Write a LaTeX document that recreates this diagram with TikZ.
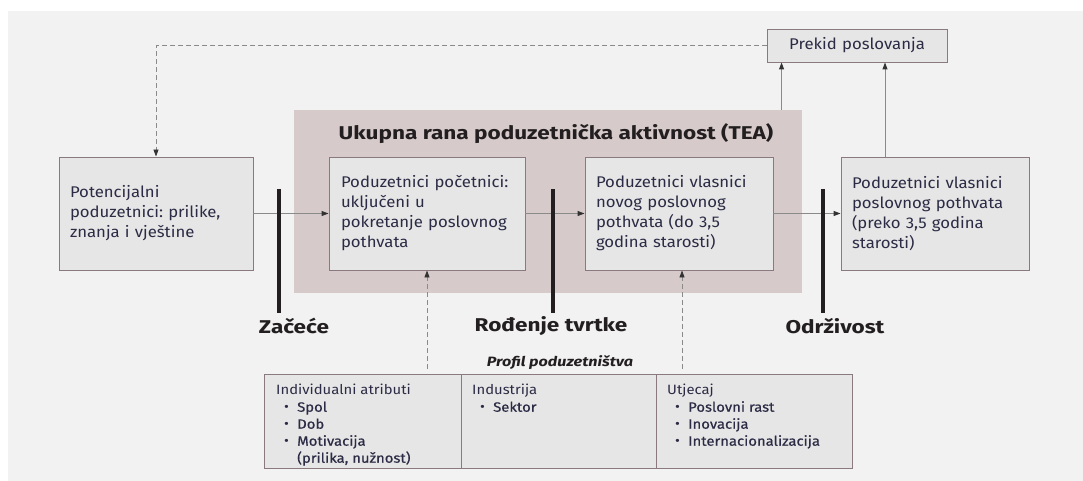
\documentclass[tikz,border=0pt]{standalone}
\usepackage{fontspec}
\setmainfont{Fira Sans}
\newfontfamily\bodyfont[FakeStretch=1.08]{Fira Sans}
\newfontfamily\titlefont[FakeStretch=1.22]{Fira Sans}
\newfontfamily\tablefont[FakeStretch=1.1]{Fira Sans}
\newfontfamily\itemfont[FakeStretch=1.1,FakeBold=0.5]{Fira Sans}
\newfontfamily\profilfont[FakeStretch=1.2]{Fira Sans}
\usetikzlibrary{arrows.meta}
\frenchspacing
\definecolor{bg}{HTML}{F2F2F2}
\definecolor{boxfill}{HTML}{E6E6E6}
\definecolor{boxline}{HTML}{8A7A7F}
\definecolor{teafill}{HTML}{D6CBCA}
\definecolor{txt}{HTML}{2B2B45}
\definecolor{dark}{HTML}{231F20}
\definecolor{linegray}{HTML}{8A8A8A}
\definecolor{headcol}{HTML}{333333}
\tikzset{
  box/.style={draw=boxline, fill=boxfill, line width=0.9pt, align=left,
    inner xsep=11pt, inner ysep=0pt, minimum height=113pt, text=txt,
    font=\bodyfont\frenchspacing\fontsize{15.5}{20}\selectfont},
  teabox/.style={fill=teafill, inner sep=0pt},
  titletext/.style={text=dark, font=\titlefont\bfseries\fontsize{18.5}{20}\selectfont, inner sep=0pt},
  lbl/.style={text=dark, font=\titlefont\bfseries\fontsize{18.5}{20}\selectfont, inner sep=0pt},
  bar/.style={draw=dark, line width=4pt},
  arr/.style={draw=linegray, line width=0.9pt, -{Triangle[length=7pt,width=5pt,color=headcol]}},
  dasharr/.style={draw=linegray, line width=0.9pt, dash pattern=on 5pt off 3pt,
    -{Triangle[length=7pt,width=5pt,color=headcol]}},
  cell/.style={draw=boxline, fill=boxfill, line width=0.9pt, inner sep=0pt, minimum height=94pt},
  celltext/.style={text=txt, align=left, inner sep=0pt, font=\tablefont\frenchspacing\fontsize{13.5}{17}\selectfont},
  profil/.style={text=dark, inner sep=0pt, font=\profilfont\bfseries\itshape\fontsize{13.5}{14}\selectfont},
}
\newcommand{\itm}[1]{\makebox[21pt][l]{\hspace*{8pt}\textbullet}{\itemfont #1}}
\begin{document}
\begin{tikzpicture}[x=1pt,y=-1pt]
\useasboundingbox (0,0) rectangle (1083,481);
\fill[bg] (8,11) rectangle (1083,481);

% TEA region
\node[teabox, minimum width=508pt, minimum height=183pt] (tea) at (548,201.5) {};
\node[titletext] (teatitle) at (556,134) {Ukupna rana poduzetnička aktivnost (TEA)};

% main boxes
\node[box, text width=172pt] (pot) at (156,213.5) {Potencijalni\\poduzetnici: prilike,\\znanja i vještine};
\node[box, inner xsep=12pt, text width=172pt] (p1) at (427,213.5) {Poduzetnici početnici:\\uključeni u\\pokretanje poslovnog\\pothvata};
\node[box, text width=166pt] (p2) at (679,213.5) {Poduzetnici vlasnici\\novog poslovnog\\pothvata (do 3,5\\godina starosti)};
\node[box, text width=166pt] (p4) at (935,213.5) {Poduzetnici vlasnici\\poslovnog pothvata\\(preko 3,5 godina\\starosti)};

% Prekid
\node[box, align=center, text width=158pt, minimum height=33pt] (prekid) at (857,45.5) {Prekid poslovanja};

% horizontal arrows
\draw[arr] (pot) -- (p1);
\draw[arr] (p1) -- (p2);
\draw[arr] (p2) -- (p4);

% bars
\draw[bar] (279,189) -- (279,313);
\draw[bar] (553,189) -- (553,313);
\draw[bar] (823,189) -- (823,313);

% stage labels
\node[lbl] (zacece) at (294,326) {Začeće};
\node[lbl] (rodenje) at (551,326) {Rođenje tvrtke};
\node[lbl] (odrzivost) at (835,326) {Održivost};

% arrows up to Prekid
\coordinate (pk1) at ([xshift=15pt]prekid.south west);
\coordinate (pk2) at ([xshift=28pt]prekid.south);
\draw[arr] (pk1 |- tea.north) -- (pk1);
\draw[arr] (pk2 |- p4.north) -- (pk2);

% dashed feedback
\draw[dasharr] (prekid.west) -- (pot.north |- prekid.west) -- (pot.north);

% profile table
\node[profil] (profil) at (560,363) {Profil poduzetništva};
\node[cell, minimum width=197pt, anchor=north west] (c1) at (264,374) {};
\node[cell, minimum width=195pt, anchor=north west] (c2) at (461,374) {};
\node[cell, minimum width=196pt, anchor=north west] (c3) at (656,374) {};
\node[celltext, anchor=north west] (t1) at ([xshift=12pt,yshift=-10pt]c1.north west)
  {Individualni atributi\\\itm{Spol}\\\itm{Dob}\\\itm{Motivacija}\\\hspace*{21pt}{\itemfont (prilika, nužnost)}};
\node[celltext, anchor=north west] (t2) at ([xshift=11pt,yshift=-10pt]c2.north west)
  {Industrija\\\itm{Sektor}};
\node[celltext, anchor=north west] (t3) at ([xshift=11pt,yshift=-10pt]c3.north west)
  {Utjecaj\\\itm{Poslovni rast}\\\itm{Inovacija}\\\itm{Internacionalizacija}};

% dashed arrows from profile
\coordinate (dl) at (0,369);
\coordinate (p2s) at ([xshift=3pt]p2.south);
\draw[dasharr] (p1.south |- dl) -- (p1.south);
\draw[dasharr] (p2s |- dl) -- (p2s);
\end{tikzpicture}
\end{document}
